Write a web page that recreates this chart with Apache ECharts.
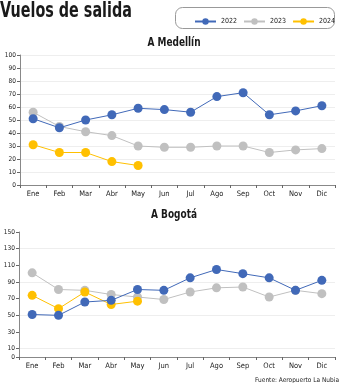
<!DOCTYPE html>
<html><head><meta charset="utf-8">
<script src="https://cdn.jsdelivr.net/npm/echarts@6/dist/echarts.min.js"></script>
<style>html,body{margin:0;padding:0;background:#fff}#c{width:346px;height:383px}</style>
</head><body><div id="c"></div>
<script>
const months = ['Ene','Feb','Mar','Abr','May','Jun','Jul','Ago','Sep','Oct','Nov','Dic'];
const years = ['2022','2023','2024'];
const med2022 = [51,44,50,54,59,58,56,68,71,54,57,61];
const med2023 = [56,45,41,38,30,29,29,30,30,25,27,28];
const med2024 = [31,25,25,18,15];
const bog2022 = [51,50,66,68,81,80,95,105,100,95,80,92];
const bog2023 = [101,81,80,75,72,69,78,83,84,72,80,76];
const bog2024 = [74,58,78,63,67];
const bogTicks = [0,10,30,50,70,90,110,130,150];
const colors = ['#4169b8','#c0c0c0','#ffc000'];
const F = '"Liberation Sans Narrow","DejaVu Sans Condensed",sans-serif';

const chart = echarts.init(document.getElementById('c'));
function xAx(gi){return {type:'category',gridIndex:gi,data:months,boundaryGap:true,
  axisLine:{lineStyle:{color:'#888',width:1}},
  axisTick:{show:true,length:3,inside:false,lineStyle:{color:'#666'}},
  axisLabel:{fontFamily:F,fontSize:7.5,color:'#222',margin:5}};}
function ser(name,data,xi,ci){return {name:name,type:'line',xAxisIndex:xi,yAxisIndex:xi,data:data,
  symbol:'circle',symbolSize:9,lineStyle:{width:1,color:colors[ci]},itemStyle:{color:colors[ci]},
  emphasis:{disabled:true},z:ci===0?4:(ci===2?3:2)};}
function txt(s,x,y,size,sx,align){return {type:'text',x:x,y:y,scaleX:sx,
  style:{text:s,fontFamily:F,fontSize:size,fontWeight:'bold',fill:'#1a1a1a',align:align,verticalAlign:'middle'}};}
chart.setOption({
  animation:false,
  textStyle:{fontFamily:F},
  title:[
    {text:'Fuente: Aeropuerto La Nubia',right:2,top:372,textStyle:{fontFamily:F,fontSize:6.5,fontWeight:'normal',color:'#222'}}
  ],
  graphic:[
    txt('Vuelos de salida',0,12,21,0.76,'left'),
    txt('A Medellín',174,43,12,0.83,'center'),
    txt('A Bogotá',174,215,12,0.83,'center'),
    {type:'rect',shape:{x:175.5,y:7.5,width:159,height:21,r:7},style:{fill:'#fff',stroke:'#999',lineWidth:1},
    shadowBlur:2,shadowColor:'rgba(0,0,0,0.2)',z:-1}],
  legend:{data:years,left:189,top:13,width:150,itemWidth:21,itemHeight:8,itemGap:6,
    textStyle:{fontFamily:F,fontSize:7,color:'#222'}},
  grid:[{left:20,right:11,top:55,bottom:198},{left:19,right:11,top:232,bottom:26}],
  xAxis:[xAx(0),xAx(1)],
  yAxis:[
    {type:'value',gridIndex:0,min:0,max:100,interval:10,
     axisLine:{show:true,lineStyle:{color:'#888'}},axisTick:{show:true,length:3,lineStyle:{color:'#666'}},
     axisLabel:{fontFamily:F,fontSize:6.5,color:'#222',margin:4},
     splitLine:{lineStyle:{color:'#eeeeee',width:1}}},
    {type:'value',gridIndex:1,min:0,max:150,interval:10,
     axisLine:{show:true,lineStyle:{color:'#888'}},
     axisTick:{show:true,length:3,lineStyle:{color:'#666'},customValues:bogTicks},
     axisLabel:{fontFamily:F,fontSize:6.5,color:'#222',margin:4,customValues:bogTicks},
     splitLine:{lineStyle:{color:['transparent','#eeeeee'],width:1}}}
  ],
  series:[
    ser('2022',med2022,0,0),ser('2023',med2023,0,1),ser('2024',med2024,0,2),
    ser('2022',bog2022,1,0),ser('2023',bog2023,1,1),ser('2024',bog2024,1,2)
  ]
});
</script></body></html>
